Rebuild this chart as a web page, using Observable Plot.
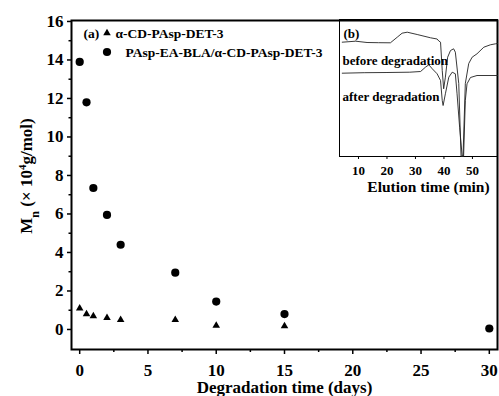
<!DOCTYPE html>
<html>
<head>
<meta charset="utf-8">
<script src="https://cdn.jsdelivr.net/npm/d3@7"></script>
<script src="https://cdn.jsdelivr.net/npm/@observablehq/plot@0.6"></script>
<style>
  html, body { margin: 0; padding: 0; background: white; }
  #wrap { position: relative; width: 499px; height: 396px; }
  #inset { position: absolute; left: 338px; top: 18px; }
</style>
</head>
<body>
<div id="wrap"><div id="main"></div><div id="inset"></div></div>
<script>
// ---- Main panel (a) data ----
const daysBlend = [0, 0.5, 1, 2, 3, 7, 10, 15, 30];
const mnBlend   = [13.9, 11.8, 7.35, 5.95, 4.4, 2.95, 1.45, 0.8, 0.05];
const daysDet   = [0, 0.5, 1, 2, 3, 7, 10, 15];
const mnDet     = [1.1, 0.8, 0.7, 0.6, 0.5, 0.5, 0.2, 0.18];
const seriesNames = ["α-CD-PAsp-DET-3", "PAsp-EA-BLA/α-CD-PAsp-DET-3"];
const yMajor = [0, 2, 4, 6, 8, 10, 12, 14, 16];
const yMinor = [1, 3, 5, 7, 9, 11, 13, 15];
const xMajor = [0, 5, 10, 15, 20, 25, 30];
const xMinor = [2.5, 7.5, 12.5, 17.5, 22.5, 27.5];

// ---- Inset panel (b) data: elution time (min) vs detector signal (a.u.) ----
const tBefore = [4.3, 9, 13, 17, 21.2, 23.6, 25.3, 27.1, 30.6, 35.3, 37.6, 38.2, 38.8, 39.4, 39.9, 40.5, 41.3, 42.3, 43.4, 44.0, 45.2, 46.0, 46.7, 47.5, 48.7, 49.9, 51.6, 54.0, 56.3, 58.1, 58.8];
const sBefore = [114.3, 115.3, 114, 113.8, 113.7, 119.3, 123.3, 124.3, 122, 118.7, 117.5, 115.5, 114.3, 86, 67.7, 79.3, 99.3, 106, 107.7, 104.3, 73, 0.3, 0.3, 73, 93, 99.3, 102.7, 109.3, 111.7, 112.7, 113];
const tAfter  = [4.3, 12, 20, 28, 31.8, 33.5, 34.7, 35.9, 37.6, 38.8, 39.4, 39.7, 40.5, 41.7, 42.9, 44.0, 44.6, 45.5, 46.4, 46.9, 47.5, 48.1, 49.3, 51.6, 58.8];
const sAfter  = [83.3, 83.8, 84, 84.3, 85, 89.3, 91.7, 87.7, 82.7, 76, 56, 51, 62.7, 79.3, 84.3, 82.7, 62.7, 29.3, 0.3, 0.3, 56, 72.7, 79, 81, 81];
const insetTicks = [10, 20, 30, 40, 50];
const insetLabels = ["(b)", "before degradation", "after degradation"];

const blend = daysBlend.map((d, i) => ({x: d, y: mnBlend[i]}));
const det = daysDet.map((d, i) => ({x: d, y: mnDet[i]}));
const before = tBefore.map((t, i) => ({t, s: sBefore[i]}));
const after = tAfter.map((t, i) => ({t, s: sAfter[i]}));

const font = "'Liberation Serif', 'Times New Roman', Times, serif";
const triR = 2.8, circR = 4.1;

const main = Plot.plot({
  width: 499, height: 396,
  marginLeft: 71, marginRight: 2, marginTop: 20, marginBottom: 47,
  style: {fontFamily: font, fontWeight: "bold", fontSize: "17px", color: "black", background: "white"},
  x: {domain: [-0.6, 30.6]},
  y: {domain: [-1.04, 16.05]},
  marks: [
    Plot.axisY({ticks: yMajor, tickSize: 4, tickPadding: 4, label: null, strokeWidth: 1.5}),
    Plot.axisY({ticks: yMinor, tickSize: 2.5, tickFormat: () => "", label: null, strokeWidth: 1.5}),
    Plot.axisX({ticks: xMajor, tickSize: 5, tickPadding: 9, label: null, strokeWidth: 1.5}),
    Plot.axisX({ticks: xMinor, tickSize: 3, tickFormat: () => "", label: null, strokeWidth: 1.5}),
    Plot.frame({stroke: "black", strokeWidth: 2}),
    Plot.dot(det, {x: "x", y: "y", symbol: "triangle", r: triR, fill: "black", stroke: "none"}),
    Plot.dot(blend, {x: "x", y: "y", symbol: "circle", r: circR, fill: "black", stroke: "none"}),
    // legend texts
    Plot.text(["(a)"], {frameAnchor: "top-left", lineAnchor: "middle", dx: 12, dy: 13, fontSize: 13.5, textAnchor: "start"}),
    Plot.text([seriesNames[0]], {frameAnchor: "top-left", lineAnchor: "middle", dx: 44, dy: 13, fontSize: 13.5, textAnchor: "start"}),
    Plot.text([seriesNames[1]], {frameAnchor: "top-left", lineAnchor: "middle", dx: 54, dy: 32, fontSize: 13.5, textAnchor: "start"}),
    // x label
    Plot.text(["Degradation time (days)"], {frameAnchor: "bottom", lineAnchor: "middle", dy: 38, fontSize: 17})
  ]
});
document.getElementById("main").appendChild(main);

const msvg = d3.select(main);
// legend keys (symbols)
msvg.append("path")
  .attr("transform", "translate(107,33)")
  .attr("d", d3.symbol(d3.symbolTriangle, Math.PI * triR * triR)())
  .attr("fill", "black");
msvg.append("path")
  .attr("transform", "translate(107,52)")
  .attr("d", d3.symbol(d3.symbolCircle, Math.PI * circR * circR)())
  .attr("fill", "black");

// y label with subscript/superscript
const yl = msvg.append("text")
  .attr("transform", "translate(32,176) rotate(-90)")
  .attr("text-anchor", "middle")
  .attr("fill", "black")
  .style("font-family", font).style("font-weight", "bold").style("font-size", "17px");
yl.append("tspan").text("M");
yl.append("tspan").attr("baseline-shift", "sub").style("font-size", "12px").text("n");
yl.append("tspan").text(" (× 10");
yl.append("tspan").attr("baseline-shift", "super").style("font-size", "11px").text("4");
yl.append("tspan").text("g/mol)");

const inset = Plot.plot({
  width: 161, height: 182,
  marginLeft: 1, marginRight: 2, marginTop: 1, marginBottom: 44,
  style: {fontFamily: font, fontWeight: "bold", fontSize: "13px", color: "black", background: "none", overflow: "visible"},
  x: {domain: [3.33, 58.8]},
  y: {domain: [0, 137], axis: null},
  marks: [
    Plot.frame({stroke: "black", strokeWidth: 1}),
    Plot.axisX({ticks: insetTicks, tickSize: 3, tickPadding: 6, label: null}),
    Plot.line(before, {x: "t", y: "s", stroke: "#222", strokeWidth: 0.9}),
    Plot.line(after, {x: "t", y: "s", stroke: "#222", strokeWidth: 0.9}),
    Plot.text([insetLabels[0]], {frameAnchor: "top-left", lineAnchor: "middle", dx: 4, dy: 14, fontSize: 13, textAnchor: "start"}),
    Plot.text([insetLabels[1]], {frameAnchor: "top-left", lineAnchor: "middle", dx: 3, dy: 41, fontSize: 13, textAnchor: "start"}),
    Plot.text([insetLabels[2]], {frameAnchor: "top-left", lineAnchor: "middle", dx: 3, dy: 77, fontSize: 13, textAnchor: "start"}),
    Plot.text(["Elution time (min)"], {frameAnchor: "bottom", lineAnchor: "middle", dx: 10, dy: 31, fontSize: 15.5})
  ]
});
document.getElementById("inset").appendChild(inset);
</script>
</body>
</html>
